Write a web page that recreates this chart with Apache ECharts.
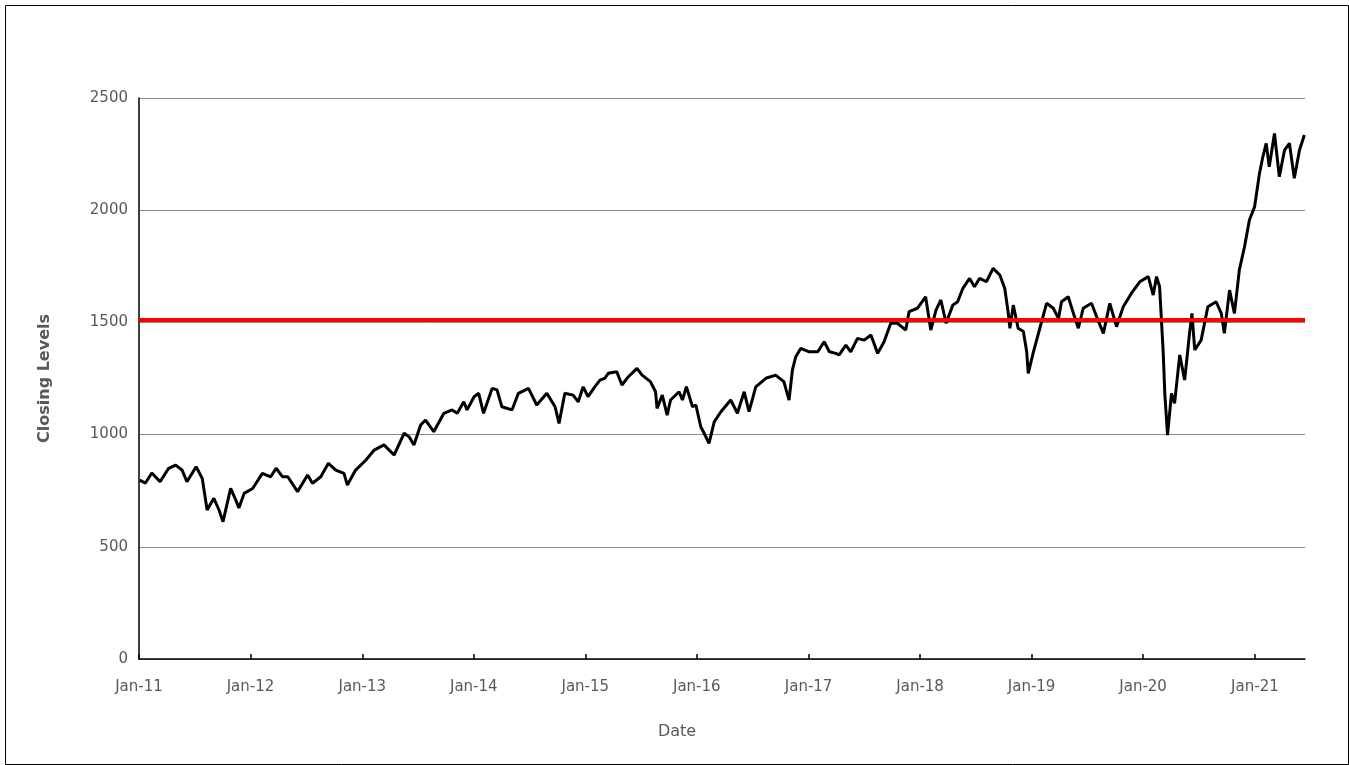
<!DOCTYPE html>
<html>
<head>
<meta charset="utf-8">
<script src="https://cdn.jsdelivr.net/npm/echarts@6/dist/echarts.min.js"></script>
<style>
html,body{margin:0;padding:0;background:#fff;}
#chart{width:1349px;height:765px;}
</style>
</head>
<body>
<div id="chart"></div>
<script>
const dates = [
'2011-01-03','2011-01-22','2011-02-12','2011-03-11','2011-04-08','2011-05-01','2011-05-22','2011-06-07','2011-07-07','2011-07-27','2011-08-07','2011-08-12','2011-09-03','2011-09-20','2011-10-03','2011-10-28','2011-11-14','2011-11-24','2011-12-11',
'2012-01-08','2012-02-09','2012-03-07','2012-03-25','2012-04-15','2012-05-02','2012-06-03','2012-07-06','2012-07-22','2012-08-18','2012-09-12','2012-10-06','2012-11-02','2012-11-13','2012-12-10',
'2013-01-13','2013-02-09','2013-03-13','2013-04-15','2013-05-18','2013-06-03','2013-06-19','2013-07-11','2013-07-27','2013-08-23','2013-09-25','2013-10-22','2013-11-08','2013-11-29','2013-12-10',
'2014-01-02','2014-01-17','2014-02-02','2014-03-02','2014-03-18','2014-04-03','2014-05-06','2014-05-27','2014-06-29','2014-07-26','2014-08-28','2014-09-24','2014-10-07','2014-10-26','2014-11-22','2014-12-09','2014-12-25',
'2015-01-10','2015-02-01','2015-02-18','2015-03-06','2015-03-17','2015-04-14','2015-05-01','2015-05-22','2015-06-19','2015-07-06','2015-08-02','2015-08-19','2015-08-24','2015-09-10','2015-09-26','2015-10-07','2015-11-04','2015-11-15','2015-11-28','2015-12-18','2015-12-29',
'2016-01-14','2016-01-25','2016-02-10','2016-02-27','2016-03-20','2016-04-21','2016-05-13','2016-06-04','2016-06-20','2016-07-12','2016-08-14','2016-09-15','2016-10-12','2016-10-29','2016-11-09','2016-11-20','2016-12-06',
'2017-01-03','2017-01-31','2017-02-21','2017-03-10','2017-03-31','2017-04-11','2017-05-03','2017-05-19','2017-06-10','2017-07-02','2017-07-24','2017-08-15','2017-09-05','2017-09-27','2017-10-19','2017-11-15','2017-11-26','2017-12-23',
'2018-01-19','2018-02-05','2018-02-22','2018-03-10','2018-03-27','2018-04-18','2018-05-04','2018-05-21','2018-06-12','2018-06-28','2018-07-15','2018-08-06','2018-08-28','2018-09-19','2018-10-05','2018-10-16','2018-10-22','2018-11-02','2018-11-18','2018-12-05','2018-12-16','2018-12-21',
'2019-01-07','2019-01-28','2019-02-19','2019-03-13','2019-03-30','2019-04-09','2019-05-01','2019-05-18','2019-06-03','2019-06-19','2019-07-16','2019-08-02','2019-08-24','2019-09-14','2019-10-06','2019-10-28','2019-11-24','2019-12-21',
'2020-01-18','2020-02-03','2020-02-14','2020-02-24','2020-03-01','2020-03-07','2020-03-12','2020-03-21','2020-04-03','2020-04-13','2020-04-30','2020-05-16','2020-06-01','2020-06-09','2020-06-18','2020-07-09','2020-07-31','2020-08-27','2020-09-13','2020-09-23','2020-10-10','2020-10-26','2020-11-11','2020-11-28','2020-12-14','2020-12-31',
'2021-01-16','2021-01-27','2021-02-07','2021-02-17','2021-03-06','2021-03-22','2021-04-08','2021-04-24','2021-05-10','2021-05-27','2021-06-12'
];
const closingLevels = [
797,784,829,790,850,864,842,790,857,805,708,664,716,664,612,760,708,673,738,
760,827,812,850,812,812,746,820,783,812,872,842,827,775,842,
887,931,954,909,1006,990,954,1043,1065,1013,1095,1110,1095,1146,1110,
1169,1184,1095,1206,1199,1124,1110,1184,1206,1132,1184,1124,1050,1184,1176,1146,1213,
1169,1213,1243,1251,1273,1280,1221,1258,1295,1265,1236,1191,1117,1176,1087,1154,1191,1154,1213,1124,1132,
1035,1006,961,1057,1102,1154,1095,1191,1102,1213,1251,1265,1236,1154,1288,1347,1384,
1369,1369,1414,1369,1362,1355,1399,1369,1429,1421,1444,1362,1414,1496,1496,1466,1548,1563,
1614,1466,1555,1600,1496,1577,1592,1652,1696,1659,1696,1681,1741,1711,1652,1548,1474,1577,1474,1459,1369,1273,
1369,1474,1585,1563,1518,1592,1614,1540,1474,1563,1585,1525,1451,1585,1481,1570,1630,1681,
1704,1622,1704,1659,1511,1362,1184,998,1184,1139,1355,1243,1451,1540,1377,1421,1570,1592,1540,1451,1644,1540,1733,1837,1956,2015,
2164,2238,2298,2193,2342,2149,2268,2298,2142,2268,2335
];
const thresholdLevel = 1510;
const axisStart = '2011-01-01';
const axisEnd = '2021-06-14';
const yTicks = [0, 500, 1000, 1500, 2000, 2500];
const xAxisTitle = 'Date';
const yAxisTitle = 'Closing Levels';

const seriesData = dates.map((d, i) => [d, closingLevels[i]]);
const labelColor = '#595959';
const chart = echarts.init(document.getElementById('chart'), null, {renderer: 'canvas'});
const DAY = 24 * 3600 * 1000;
chart.setOption({
  animation: false,
  backgroundColor: '#ffffff',
  graphic: [{
    type: 'rect', left: 3, top: 3, silent: true,
    shape: {width: 1343, height: 759},
    style: {fill: 'none', stroke: '#000', lineWidth: 1}
  }],
  grid: {left: 139, right: 44, top: 98, bottom: 106, containLabel: false},
  xAxis: {
    type: 'time',
    min: axisStart,
    max: axisEnd,
    minInterval: 365 * DAY,
    maxInterval: 366 * DAY,
    name: xAxisTitle,
    nameLocation: 'middle',
    nameGap: 65,
    nameTextStyle: {color: labelColor, fontSize: 16, fontFamily: 'DejaVu Sans', padding: [0, 90, 0, 0]},
    axisLine: {show: true, lineStyle: {color: '#000', width: 1.5}},
    axisTick: {show: true, inside: true, length: 5, lineStyle: {color: '#000', width: 1.5}},
    splitLine: {show: false},
    axisLabel: {
      color: labelColor, fontSize: 15, fontFamily: 'DejaVu Sans', margin: 21,
      hideOverlap: false,
      formatter: function (val) {
        const d = new Date(val);
        if (d.getMonth() !== 0) return '';
        return 'Jan-' + String(d.getFullYear()).slice(2);
      }
    }
  },
  yAxis: {
    type: 'value',
    min: yTicks[0],
    max: yTicks[yTicks.length - 1],
    interval: 500,
    name: yAxisTitle,
    nameLocation: 'middle',
    nameGap: 86,
    nameTextStyle: {color: labelColor, fontSize: 16, fontWeight: 'bold', fontFamily: 'DejaVu Sans'},
    axisLine: {show: true, lineStyle: {color: '#000', width: 1.5}},
    axisTick: {show: false},
    splitLine: {show: true, lineStyle: {color: '#8c8c8c', width: 1}},
    axisLabel: {
      color: labelColor, fontSize: 15, fontFamily: 'DejaVu Sans', margin: 11,
      formatter: function (v) { return String(v); }
    }
  },
  series: [{
    type: 'line',
    data: seriesData,
    showSymbol: false,
    symbol: 'none',
    lineStyle: {color: '#000', width: 3},
    z: 3,
    markLine: {
      silent: true,
      symbol: ['none', 'none'],
      label: {show: false},
      lineStyle: {color: '#ff0000', width: 4, type: 'solid'},
      data: [{yAxis: thresholdLevel}],
      z: 4
    }
  }]
});
</script>
</body>
</html>
